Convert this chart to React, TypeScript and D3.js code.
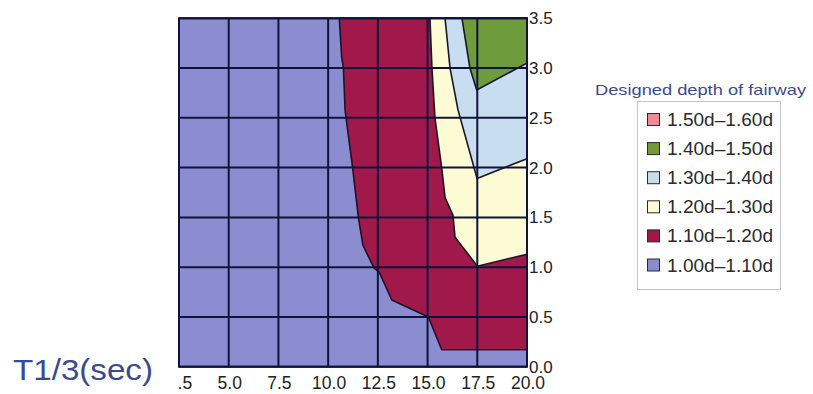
import React from "react";
import * as d3 from "d3";

// Wave period T1/3 (sec) on the x axis, wave height (m) on the right axis
const xTicks = [2.5, 5, 7.5, 10, 12.5, 15, 17.5, 20];
const yTicks = [0, 0.5, 1, 1.5, 2, 2.5, 3, 3.5];

// Contour boundaries of the required fairway depth (points as [T, H])
const edge110: [number, number][] = [
  [10.56, 3.5], [10.68, 3.11], [10.77, 3.0], [10.85, 2.58], [10.9, 2.5],
  [11.23, 2.0], [11.52, 1.5], [11.75, 1.22], [12.31, 0.99], [12.57, 0.95],
  [13.2, 0.67], [15.04, 0.5], [15.71, 0.17], [20, 0.17],
];
const edge120: [number, number][] = [
  [15.12, 3.5], [15.22, 3.0], [15.37, 2.5], [15.52, 2.28], [15.71, 2.0],
  [15.88, 1.7], [16.28, 1.52], [16.38, 1.3], [17.39, 1.04], [17.5, 1.01],
  [20, 1.13],
];
const edge130: [number, number][] = [
  [15.88, 3.5], [16.13, 3.0], [16.53, 2.58], [17.49, 1.89], [20, 2.09],
];
const edge140: [number, number][] = [
  [16.73, 3.5], [17.13, 3.0], [17.47, 2.78], [20, 3.05],
];

const legendLabels = [
  "1.50d\u20131.60d",
  "1.40d\u20131.50d",
  "1.30d\u20131.40d",
  "1.20d\u20131.30d",
  "1.10d\u20131.20d",
  "1.00d\u20131.10d",
];

const legendColors = ["#f08a92", "#74983a", "#c9dcee", "#fbfad2", "#9c1a44", "#8a8ad4"];
const bandFill = {
  d100: "#8c8cd0",
  d110: "#a0194a",
  d120: "#fdfbd3",
  d130: "#c8ddef",
  d140: "#6f9c3b",
};

const FONT = "'Liberation Sans', Arial, sans-serif";

export default function App() {
  const x = d3.scaleLinear().domain([2.5, 20]).range([179, 527]);
  const y = d3.scaleLinear().domain([0, 3.5]).range([366.7, 18.3]);
  const [xMin, xMax] = x.domain();
  const [yMin, yMax] = y.domain();

  const area = d3
    .line<[number, number]>()
    .x((d) => x(d[0]))
    .y((d) => y(d[1]));

  // each band runs from its boundary to the top-right corner
  const band = (edge: [number, number][]) =>
    area([...edge, [xMax, yMax]] as [number, number][]) + "Z";

  const bands: { edge: [number, number][]; fill: string }[] = [
    { edge: edge110, fill: bandFill.d110 },
    { edge: edge120, fill: bandFill.d120 },
    { edge: edge130, fill: bandFill.d130 },
    { edge: edge140, fill: bandFill.d140 },
  ];

  const gridColor = "#10143a";

  return (
    <svg
      width={813}
      height={394}
      style={{ position: "absolute", left: 0, top: 0, background: "#fff" }}
      fontFamily={FONT}
    >
      <defs>
        <clipPath id="xlab-clip">
          <rect x={177.5} y={370} width={400} height={24} />
        </clipPath>
      </defs>

      {/* base band */}
      <rect
        x={x(xMin)}
        y={y(yMax)}
        width={x(xMax) - x(xMin)}
        height={y(yMin) - y(yMax)}
        fill={bandFill.d100}
      />

      {bands.map((b, i) => (
        <path
          key={i}
          d={band(b.edge)}
          fill={b.fill}
          stroke="#161628"
          strokeWidth={1.6}
          strokeLinejoin="round"
        />
      ))}

      {/* grid */}
      {xTicks.map((t) => (
        <line
          key={"gx" + t}
          x1={x(t)}
          x2={x(t)}
          y1={y(yMin)}
          y2={y(yMax)}
          stroke={gridColor}
          strokeWidth={2}
        />
      ))}
      {yTicks.map((t) => (
        <line
          key={"gy" + t}
          x1={x(xMin)}
          x2={x(xMax)}
          y1={y(t)}
          y2={y(t)}
          stroke={gridColor}
          strokeWidth={2}
        />
      ))}
      <rect
        x={x(xMin)}
        y={y(yMax)}
        width={x(xMax) - x(xMin)}
        height={y(yMin) - y(yMax)}
        fill="none"
        stroke={gridColor}
        strokeWidth={2}
      />

      {/* x tick labels */}
      <g clipPath="url(#xlab-clip)">
        {xTicks.map((t) => (
          <text
            key={"lx" + t}
            x={x(t) + 1}
            y={389}
            textAnchor="middle"
            fontSize={17.5}
            fill="#222"
          >
            {d3.format(".1f")(t)}
          </text>
        ))}
      </g>

      {/* y tick labels on the right */}
      {yTicks.map((t) => (
        <text
          key={"ly" + t}
          x={529}
          y={y(t) + 6}
          fontSize={17}
          fill="#222"
        >
          {d3.format(".1f")(t)}
        </text>
      ))}

      <text x={13} y={380} fontSize={29} fill="#3b4a8c" textLength={140} lengthAdjust="spacingAndGlyphs">
        T1/3(sec)
      </text>

      {/* legend */}
      <text x={595} y={95} fontSize={14.5} fill="#3d4b8f" textLength={211} lengthAdjust="spacingAndGlyphs">
        Designed depth of fairway
      </text>
      <rect x={637.5} y={101.5} width={143} height={188} fill="#fff" stroke="#c4c4c4" strokeWidth={1} />
      {legendLabels.map((lab, i) => {
        const cy = 119.5 + i * 29.1;
        return (
          <g key={lab}>
            <rect
              x={647.5}
              y={cy - 6}
              width={12}
              height={12}
              fill={legendColors[i]}
              stroke="#2a2a2a"
              strokeWidth={1}
            />
            <text
              x={667}
              y={cy + 6.5}
              fontSize={17.5}
              fill="#2a2a2a"
              textLength={106}
              lengthAdjust="spacingAndGlyphs"
            >
              {lab}
            </text>
          </g>
        );
      })}
    </svg>
  );
}
